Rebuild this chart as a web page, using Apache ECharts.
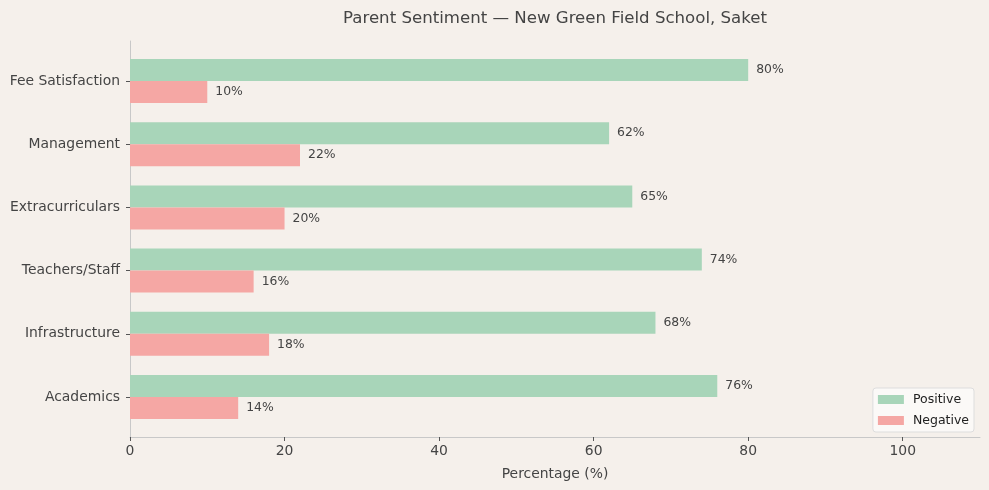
<!DOCTYPE html>
<html><head><meta charset="utf-8">
<script src="https://cdn.jsdelivr.net/npm/echarts@6/dist/echarts.min.js"></script>
<style>html,body{margin:0;padding:0;background:#f5f0eb;}#c{width:989px;height:490px;}</style>
</head><body><div id="c"></div>
<script>
const categories = ['Academics','Infrastructure','Teachers/Staff','Extracurriculars','Management','Fee Satisfaction'];
const positive = [76, 68, 74, 65, 62, 80];
const negative = [14, 18, 16, 20, 22, 10];
const xTicks = [0, 20, 40, 60, 80, 100];

const chart = echarts.init(document.getElementById('c'), null, {renderer:'canvas'});
const font = 'DejaVu Sans';
const txt = '#444444';
const lbl = {show:true, position:'right', distance:8, formatter: p => p.value + '%', color:txt, fontFamily:font, fontSize:12.4};
chart.setOption({
  backgroundColor:'#f5f0eb',
  animation:false,
  textStyle:{fontFamily:font},
  title:{text:'Parent Sentiment — New Green Field School, Saket', left:550, textAlign:'center', top:5,
    textStyle:{fontFamily:font, fontSize:16.6, fontWeight:'normal', color:txt}},
  legend:{data:['Positive','Negative'], orient:'vertical', right:15, top:388, itemWidth:26, itemHeight:9, itemGap:8,
    backgroundColor:'rgba(255,255,255,0.6)', borderColor:'#dddddd', borderWidth:1, borderRadius:3, padding:[5,5,5,5],
    textStyle:{fontFamily:font, fontSize:12.5, color:'#222', padding:[0,0,0,4]}, icon:'rect'},
  grid:[
    {left:130, right:9, top:49.4, bottom:490-428.6},
    {left:130, right:9, top:41, bottom:53}
  ],
  xAxis:[
    {type:'value', gridIndex:0, min:0, max:110, show:false},
    {type:'value', gridIndex:1, min:0, max:110,
      axisLine:{show:true, lineStyle:{color:'#c8c8c8', width:1}},
      axisTick:{show:true, length:4, lineStyle:{color:'#555'}, customValues: xTicks},
      axisLabel:{color:txt, fontFamily:font, fontSize:13.9, margin:7, customValues: xTicks},
      splitLine:{show:false},
      name:'Percentage (%)', nameLocation:'middle', nameGap:30,
      nameTextStyle:{color:txt, fontFamily:font, fontSize:13.9}}
  ],
  yAxis:[
    {type:'category', gridIndex:0, data:categories,
      axisLine:{show:false},
      axisTick:{show:true, alignWithLabel:true, length:4, lineStyle:{color:'#555'}},
      axisLabel:{color:txt, fontFamily:font, fontSize:13.9, margin:10}},
    {type:'value', gridIndex:1, min:0, max:1,
      axisLine:{show:true, lineStyle:{color:'#c8c8c8', width:1}},
      axisTick:{show:false}, axisLabel:{show:false}, splitLine:{show:false}}
  ],
  series:[
    {name:'Positive', type:'bar', xAxisIndex:0, yAxisIndex:0, data:positive, barWidth:22, barGap:'0%',
      itemStyle:{color:'#a8d5b9'}, label:lbl},
    {name:'Negative', type:'bar', xAxisIndex:0, yAxisIndex:0, data:negative, barWidth:22, barGap:'0%',
      itemStyle:{color:'#f5a7a4'}, label:lbl}
  ]
});
</script></body></html>
